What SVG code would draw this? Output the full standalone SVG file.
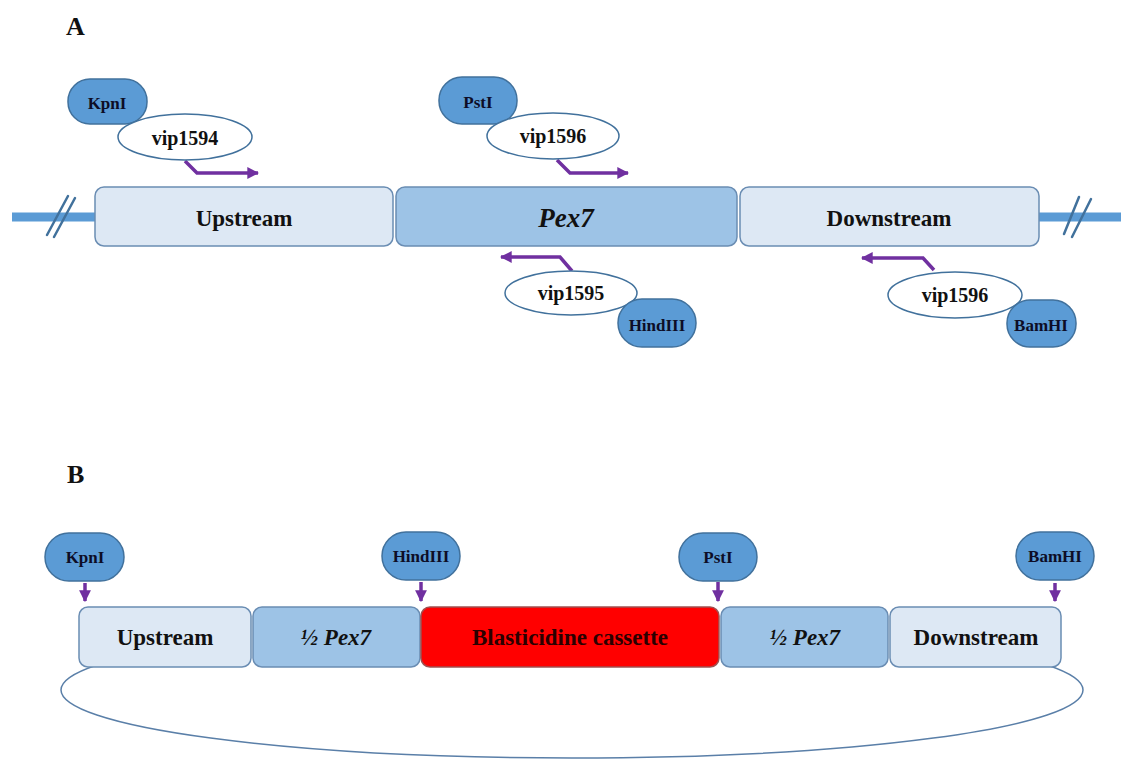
<svg xmlns="http://www.w3.org/2000/svg" width="1121" height="761" viewBox="0 0 1121 761">
<defs>
<marker id="ah" viewBox="0 0 10 10" refX="9" refY="5" markerWidth="3.4" markerHeight="3.4" orient="auto" markerUnits="strokeWidth">
<path d="M0,0 L10,5 L0,10 Z" fill="#7030a0"/>
</marker>
</defs>
<style>
text{font-family:"Liberation Serif","Times New Roman",serif;font-weight:bold;fill:#111;text-anchor:middle}
.panel{font-size:26px;text-anchor:start}
.lt{fill:#dde8f4;stroke:#6a8db3;stroke-width:1.5}
.md{fill:#9dc3e6;stroke:#6a8db3;stroke-width:1.5}
.red{fill:#ff0000;stroke:#a05050;stroke-width:1.5}
.pill{fill:#5b9bd5;stroke:#41719c;stroke-width:1.5}
.oval{fill:#fff;stroke:#41719c;stroke-width:1.5}
.box{font-size:23px}
.it{font-style:italic}
.enz{font-size:17px;fill:#0d0d26}
.vip{font-size:20px}
.arr{fill:none;stroke:#7030a0;stroke-width:3.5;marker-end:url(#ah)}
.bb{stroke:#5b9bd5;stroke-width:9}
.sl{stroke:#41719c;stroke-width:2.5;stroke-linecap:round}
</style>
<rect width="1121" height="761" fill="#fff"/>
<text class="panel" x="66" y="35">A</text>
<text class="panel" x="67" y="483">B</text>

<g id="backbone">
<line class="bb" x1="12" y1="217" x2="96" y2="217"/>
<line class="bb" x1="1038" y1="217" x2="1121" y2="217"/>
<line class="sl" x1="47" y1="235" x2="68" y2="196"/>
<line class="sl" x1="54" y1="237" x2="75" y2="198"/>
<line class="sl" x1="1064" y1="234" x2="1079" y2="197"/>
<line class="sl" x1="1072" y1="237" x2="1091" y2="199"/>
</g>

<g id="connectors">
<path class="arr" d="M185,161 L197,173 L258,173"/>
<path class="arr" d="M557,160 L570,173 L628,173"/>
<path class="arr" d="M572,271 L560,257 L501,257"/>
<path class="arr" d="M934,270 L923,258 L862,258"/>
<path class="arr" d="M85,583 L85,601"/>
<path class="arr" d="M421,582 L421,601"/>
<path class="arr" d="M718,582 L718,601"/>
<path class="arr" d="M1055,583 L1055,601"/>
</g>

<g id="a-upstream"><rect class="lt" x="95" y="187" width="298" height="59" rx="9"/><text class="box" x="244" y="226">Upstream</text></g>
<g id="a-pex7"><rect class="md" x="396" y="187" width="341" height="59" rx="9"/><text class="box it" x="566" y="227" style="font-size:27px">Pex7</text></g>
<g id="a-downstream"><rect class="lt" x="740" y="187" width="299" height="59" rx="9"/><text class="box" x="889" y="226">Downstream</text></g>

<g id="a-kpni"><rect class="pill" x="68" y="79" width="79" height="45" rx="22"/><text class="enz" x="107" y="109">KpnI</text></g>
<g id="a-vip1594"><ellipse class="oval" cx="185" cy="137" rx="67" ry="23"/><text class="vip" x="185" y="145">vip1594</text></g>
<g id="a-psti"><rect class="pill" x="439" y="77" width="78" height="47" rx="23"/><text class="enz" x="478" y="108">PstI</text></g>
<g id="a-vip1596"><ellipse class="oval" cx="553" cy="136" rx="66" ry="23"/><text class="vip" x="553" y="143">vip1596</text></g>
<g id="a-vip1595"><ellipse class="oval" cx="571" cy="293" rx="66" ry="22"/><text class="vip" x="571" y="300">vip1595</text></g>
<g id="a-hindiii"><rect class="pill" x="618" y="299" width="78" height="48" rx="24"/><text class="enz" x="657" y="331">HindIII</text></g>
<g id="a-vip1596b"><ellipse class="oval" cx="955" cy="295" rx="67" ry="23"/><text class="vip" x="955" y="302">vip1596</text></g>
<g id="a-bamhi"><rect class="pill" x="1007" y="300" width="69" height="47" rx="23"/><text class="enz" x="1041" y="331">BamHI</text></g>

<g id="b-loop">
<ellipse cx="572" cy="690" rx="511" ry="68" fill="none" stroke="#5a7fa8" stroke-width="1.5"/>
<rect x="80" y="606" width="980" height="60" fill="#fff"/>
</g>
<g id="b-upstream"><rect class="lt" x="79" y="607" width="172" height="60" rx="9"/><text class="box" x="165" y="645">Upstream</text></g>
<g id="b-halfpex7a"><rect class="md" x="253" y="607" width="167" height="60" rx="9"/><text class="box it" x="336" y="645">½ Pex7</text></g>
<g id="b-blast"><rect class="red" x="421" y="607" width="298" height="60" rx="9"/><text class="box" x="570" y="645" style="fill:#2a0000">Blasticidine cassette</text></g>
<g id="b-halfpex7b"><rect class="md" x="721" y="607" width="167" height="60" rx="9"/><text class="box it" x="805" y="645">½ Pex7</text></g>
<g id="b-downstream"><rect class="lt" x="890" y="607" width="171" height="60" rx="9"/><text class="box" x="976" y="645">Downstream</text></g>

<g id="b-kpni"><rect class="pill" x="45" y="533" width="79" height="48" rx="24"/><text class="enz" x="85" y="563">KpnI</text></g>
<g id="b-hindiii"><rect class="pill" x="382" y="532" width="78" height="48" rx="24"/><text class="enz" x="421" y="562">HindIII</text></g>
<g id="b-psti"><rect class="pill" x="679" y="533" width="78" height="48" rx="24"/><text class="enz" x="718" y="563">PstI</text></g>
<g id="b-bamhi"><rect class="pill" x="1016" y="532" width="78" height="48" rx="24"/><text class="enz" x="1055" y="562">BamHI</text></g>
</svg>
